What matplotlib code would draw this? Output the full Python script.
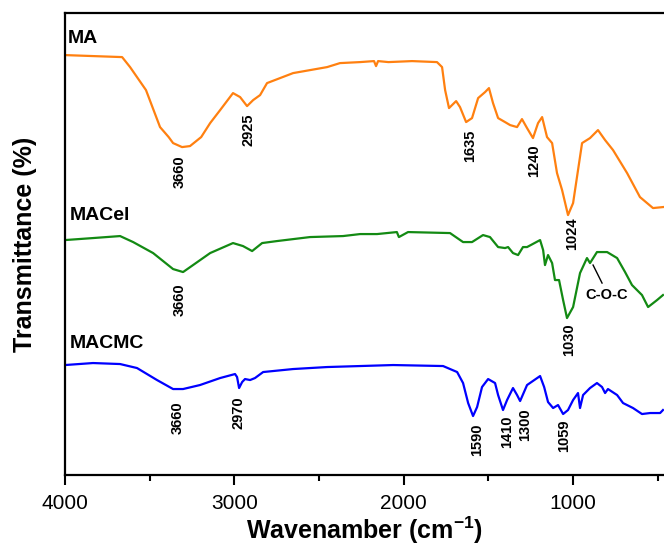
import matplotlib
matplotlib.use("Agg")
import matplotlib.pyplot as plt

plt.rcParams['font.family'] = ['Liberation Sans', 'DejaVu Sans']
plt.rcParams['mathtext.default'] = 'regular'

# spectra (wavenumber in cm-1, transmittance in arbitrary units)
ma_wn = [4000, 3663, 3616, 3522, 3439, 3388, 3362, 3309, 3262, 3196, 3143, 3084, 3008, 2966,
         2925, 2889, 2848, 2807, 2653, 2452, 2376, 2257, 2175, 2163, 2151, 2090, 1950, 1803,
         1773, 1755, 1732, 1690, 1667, 1631, 1596, 1560, 1519, 1496, 1472, 1442, 1401, 1371,
         1330, 1301, 1271, 1236, 1206, 1182, 1153, 1123, 1094, 1064, 1029, 999, 946, 899,
         852, 810, 763, 680, 604, 527, 468]
ma_t = [420, 418, 408, 385, 348, 338, 332, 328, 329, 338, 352, 365, 382, 378,
        369, 375, 380, 392, 402, 408, 412, 413, 414, 409, 414, 413, 414, 413,
        408, 385, 367, 374, 368, 353, 357, 377, 383, 387, 372, 357, 353, 350,
        348, 356, 347, 337, 352, 358, 338, 332, 302, 285, 260, 272, 332, 337,
        345, 335, 325, 302, 278, 267, 268]

macel_wn = [4000, 3835, 3675, 3598, 3480, 3362, 3303, 3244, 3143, 3008, 2949, 2895, 2836,
            2748, 2553, 2358, 2257, 2157, 2040, 2028, 1974, 1726, 1649, 1596, 1531, 1490,
            1442, 1401, 1383, 1354, 1324, 1295, 1271, 1194, 1176, 1165, 1147, 1123, 1106,
            1082, 1058, 1035, 999, 958, 917, 899, 858, 798, 739, 692, 651, 592, 556, 503, 468]
macel_t = [235, 237, 239, 233, 222, 206, 203, 210, 222, 232, 229, 224, 232,
           234, 238, 239, 241, 241, 243, 238, 243, 242, 233, 233, 240, 238,
           228, 227, 228, 222, 220, 228, 228, 235, 225, 210, 220, 212, 195,
           195, 175, 157, 168, 202, 217, 212, 223, 223, 217, 203, 190, 180, 168, 175, 180]

macmc_wn = [4000, 3835, 3675, 3575, 3457, 3362, 3303, 3203, 3084, 2996, 2984, 2972, 2954,
            2937, 2907, 2878, 2830, 2653, 2452, 2257, 2062, 1767, 1684, 1649, 1619, 1590,
            1566, 1537, 1501, 1460, 1442, 1413, 1389, 1354, 1330, 1312, 1271, 1194, 1170,
            1147, 1117, 1088, 1058, 1029, 999, 970, 958, 940, 899, 858, 828, 810, 793,
            739, 704, 645, 592, 544, 485, 468]
macmc_t = [110, 112, 111, 107, 95, 86, 86, 90, 97, 101, 98, 87, 93,
           96, 95, 97, 103, 106, 108, 109, 110, 109, 103, 92, 72, 59,
           68, 88, 96, 92, 80, 65, 75, 87, 80, 74, 90, 99, 88,
           73, 67, 70, 61, 65, 75, 82, 67, 80, 87, 92, 88, 82, 86,
           80, 72, 67, 61, 62, 62, 65]

sample_names = ["MA", "MACel", "MACMC"]
peak_labels = ["3660", "2925", "1635", "1240", "1024",
               "3660", "1030",
               "3660", "2970", "1590", "1410", "1300", "1059"]

fig = plt.figure(figsize=(6.64, 5.46), dpi=100)
ax = fig.add_axes([0.098, 0.130, 0.902, 0.846])

ax.plot(ma_wn, ma_t, color="#ff8010", lw=1.6)
ax.plot(macel_wn, macel_t, color="#138a13", lw=1.6)
ax.plot(macmc_wn, macmc_t, color="#0000ff", lw=1.6)

ax.set_xlim(4000, 462)
ax.set_ylim(0, 462)

# sample names
name_pos = [(3982, 437), (3970, 260), (3970, 132)]
for name, (x, y) in zip(sample_names, name_pos):
    ax.text(x, y, name, fontsize=14, fontweight="bold", ha="left", va="center")

# peak labels, rotated
peak_pos = [(3321, 303), (2919, 345), (1608, 329), (1230, 314), (1005, 241),
            (3321, 175), (1023, 135),
            (3332, 57), (2978, 62), (1566, 35), (1389, 43), (1283, 50), (1052, 39)]
for lab, (x, y) in zip(peak_labels, peak_pos):
    ax.text(x, y, lab, fontsize=10.5, fontweight="bold", rotation=90,
            ha="center", va="center")

ax.plot([881, 828], [210, 192], color="black", lw=1)
ax.text(798, 180, "C-O-C", fontsize=10.5, fontweight="bold", ha="center", va="center")

ax.set_xticks([4000, 3000, 2000, 1000])
ax.set_xticks([3500, 2500, 1500, 500], minor=True)
ax.set_yticks([])
ax.tick_params(axis="x", which="major", direction="out", length=7, width=1.5,
               labelsize=15, pad=7)
ax.tick_params(axis="x", which="minor", direction="out", length=4, width=1.5)

for side in ["left", "top", "bottom"]:
    ax.spines[side].set_linewidth(1.6)
ax.spines["right"].set_visible(False)

ax.set_xlabel("Wavenamber (cm$^{-1}$)", fontsize=18, fontweight="bold", labelpad=1)
ax.set_ylabel("Transmittance (%)", fontsize=18, fontweight="bold", labelpad=20)

fig.savefig("out.png", dpi=100)
